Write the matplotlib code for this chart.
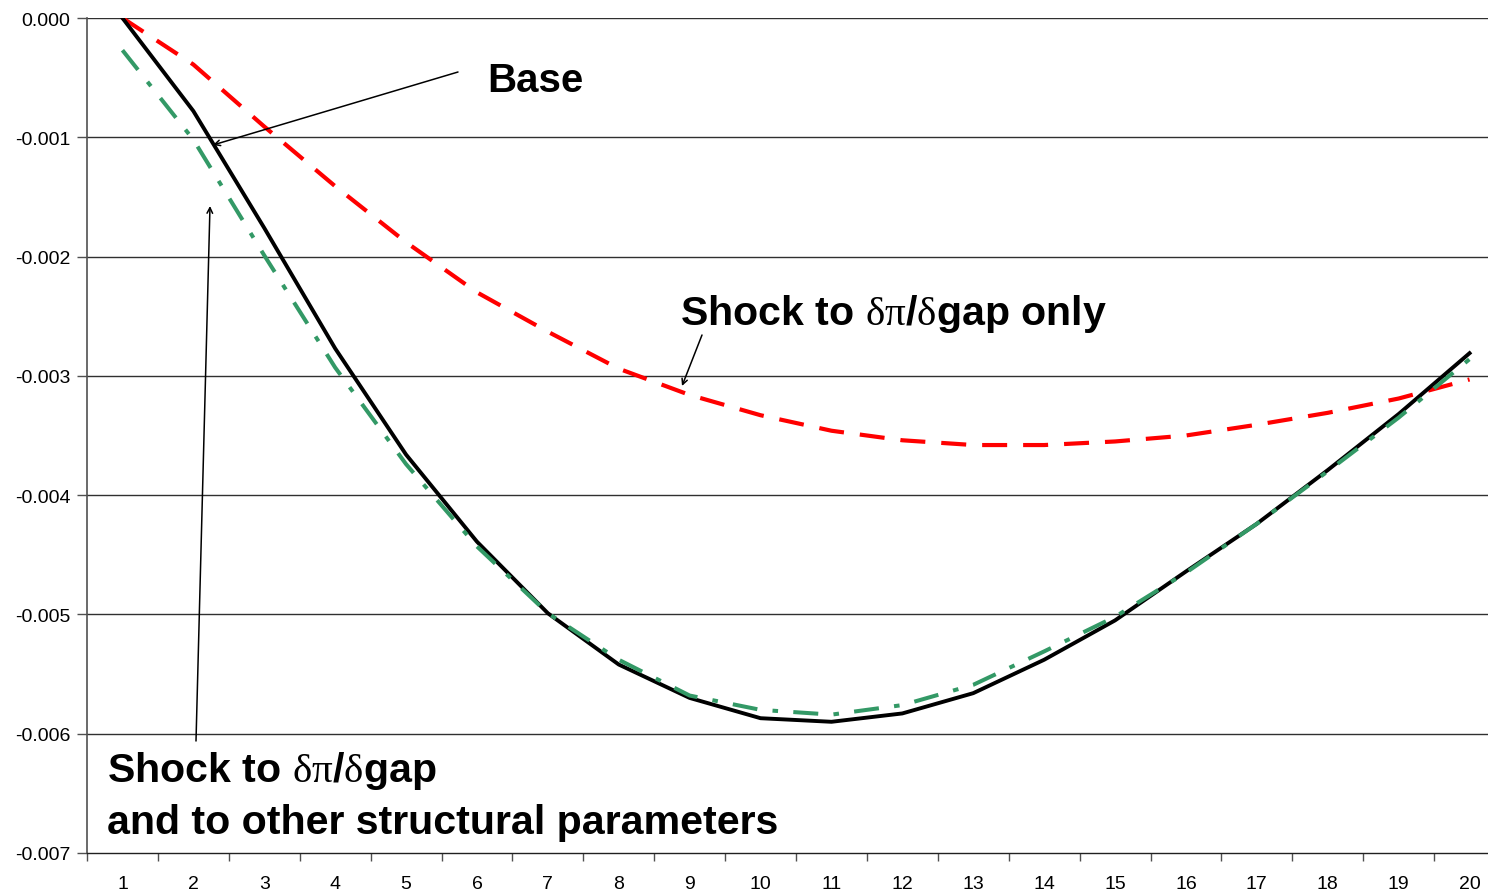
import matplotlib
matplotlib.use("Agg")
import matplotlib.pyplot as plt
from matplotlib.ticker import FixedLocator, FormatStrFormatter

plt.rcParams['font.family'] = ['Liberation Sans', 'DejaVu Sans']
plt.rcParams['mathtext.fontset'] = 'custom'
plt.rcParams['mathtext.rm'] = 'Liberation Serif'
plt.rcParams['mathtext.it'] = 'Liberation Serif:italic'
plt.rcParams['mathtext.bf'] = 'Liberation Serif:bold'

periods = list(range(1, 21))
base = [0.0, -0.00078, -0.00176, -0.00277, -0.00366, -0.00439, -0.00499, -0.00542,
        -0.00570, -0.00587, -0.00590, -0.00583, -0.00566, -0.00538, -0.00505,
        -0.00464, -0.00424, -0.00379, -0.00332, -0.00281]
shock_only = [0.0, -0.00039, -0.00091, -0.00141, -0.00188, -0.00230, -0.00263, -0.00294,
              -0.00316, -0.00333, -0.00346, -0.00354, -0.00358, -0.00358, -0.00355,
              -0.00350, -0.00341, -0.00331, -0.00319, -0.00303]
shock_all = [-0.00027, -0.00102, -0.00199, -0.00293, -0.00374, -0.00443, -0.00499, -0.00538,
             -0.00568, -0.00580, -0.00584, -0.00576, -0.00559, -0.00531, -0.00502,
             -0.00465, -0.00424, -0.00380, -0.00335, -0.00286]
y_ticks = [0.000, -0.001, -0.002, -0.003, -0.004, -0.005, -0.006, -0.007]

W, H = 1488, 895
fig = plt.figure(figsize=(W / 100, H / 100), dpi=100)
left_px, top_px, bottom_px = 87, 19, 854
unit_px = 70.9
ax = fig.add_axes([left_px / W, 1 - bottom_px / H, 20 * unit_px / W, (bottom_px - top_px) / H])

ax.set_xlim(0.5, 20.5)
ax.set_ylim(-0.007, 0.0)

for y in y_ticks[:-1]:
    ax.axhline(y, color='#303030', lw=1.0, zorder=1)

lw_b, lw_r, lw_g = 2.8, 3.0, 2.9
ax.plot(periods, shock_only, color='#FF0000', lw=lw_r,
        linestyle=(0, (18 / lw_r, 11.5 / lw_r)), zorder=3)
ax.plot(periods, base, color='black', lw=lw_b, zorder=4)
ax.plot(periods, shock_all, color='#339966', lw=lw_g,
        linestyle=(0, (18 / lw_g, 11 / lw_g, 4 / lw_g, 11 / lw_g)), zorder=5)

for s in ['top', 'right']:
    ax.spines[s].set_visible(False)
ax.spines['left'].set_color('#505050')
ax.spines['bottom'].set_color('#202020')
ax.spines['left'].set_linewidth(1.2)
ax.spines['bottom'].set_linewidth(1.0)

ax.yaxis.set_major_locator(FixedLocator(y_ticks))
ax.yaxis.set_major_formatter(FormatStrFormatter('%.3f'))
ax.tick_params(axis='y', direction='out', length=7, width=1, colors='#505050',
               labelcolor='black', labelsize=14, pad=5)

ax.set_xticks(periods)
ax.set_xticklabels([str(p) for p in periods])
ax.set_xticks([p + 0.5 for p in range(0, 21)], minor=True)
ax.tick_params(axis='x', which='major', length=0, labelsize=14, pad=16)
ax.tick_params(axis='x', which='minor', direction='out', length=6, width=1, colors='#505050')

arrow_kw = dict(arrowstyle='->', color='black', lw=1.1, shrinkA=0, shrinkB=0,
                mutation_scale=10)

def px2data(px, py):
    return (0.5 + (px - left_px) / unit_px, -(py - top_px) / ((bottom_px - top_px) / 7) / 1000)

ax.annotate('', xy=px2data(213, 146), xytext=px2data(458, 73), arrowprops=arrow_kw)
ax.text(*px2data(487, 81), 'Base', fontsize=29, fontweight='bold', ha='left', va='center')

ax.annotate('', xy=px2data(682, 387), xytext=px2data(702, 336), arrowprops=arrow_kw)
ax.text(*px2data(680, 314), r'Shock to $\mathrm{\delta\pi}$/$\mathrm{\delta}$gap only',
        fontsize=29.6, fontweight='bold', ha='left', va='center')

ax.annotate('', xy=px2data(210, 207), xytext=px2data(196, 742), arrowprops=arrow_kw)
ax.text(*px2data(107, 771), r'Shock to $\mathrm{\delta\pi}$/$\mathrm{\delta}$gap',
        fontsize=29.6, fontweight='bold', ha='left', va='center')
ax.text(*px2data(107, 823), 'and to other structural parameters',
        fontsize=29.6, fontweight='bold', ha='left', va='center')

fig.savefig('out.png', dpi=100)
